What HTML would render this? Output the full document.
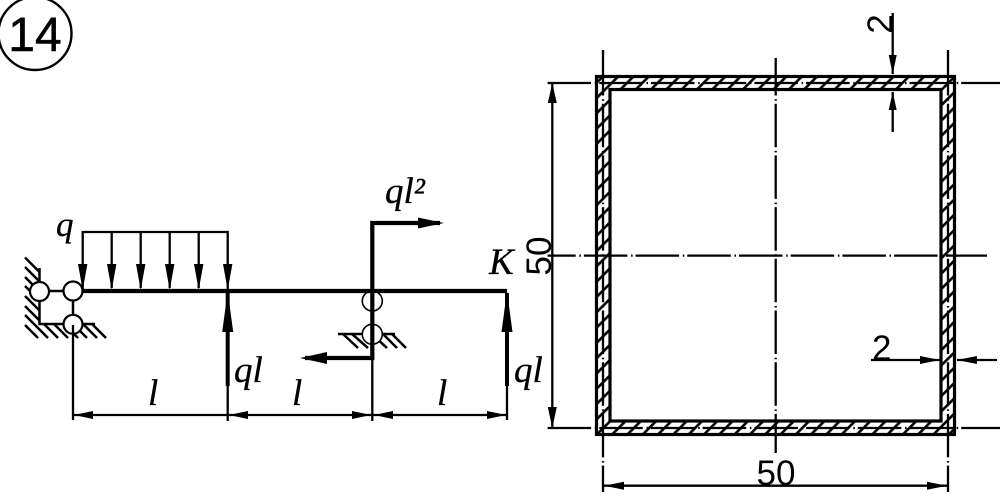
<!DOCTYPE html>
<html>
<head>
<meta charset="utf-8">
<style>
html,body{margin:0;padding:0;background:#fff}
svg{display:block}
.t{font-family:"Liberation Serif",serif;font-style:italic;font-size:37px;fill:#000;stroke:#000;stroke-width:.3}
.d{font-family:"Liberation Sans",sans-serif;font-size:35px;fill:#000}
</style>
</head>
<body>
<svg width="1000" height="501" viewBox="0 0 1000 501" xmlns="http://www.w3.org/2000/svg">
<defs>
<pattern id="h" patternUnits="userSpaceOnUse" width="10.82" height="10.82" patternTransform="rotate(-45)">
<rect x="0" y="3" width="10.82" height="2.6" fill="#000"/>
</pattern>
</defs>
<rect width="1000" height="501" fill="#fff"/>

<!-- 14 -->
<circle cx="35" cy="33.5" r="36.5" fill="none" stroke="#000" stroke-width="2.4"/>
<text x="35" y="51" text-anchor="middle" font-family="'Liberation Sans',sans-serif" font-size="48" stroke="#000" stroke-width="0.5">14</text>

<!-- wall hatch -->
<g stroke="#000" stroke-width="2.5" fill="none">
<path d="M25 257.5L39.5 272M25 267L39.5 281.5M25 277L39.5 291.5M25 286L39.5 300.5M25 296L39.5 310.5M25 306L39.5 320.5M25 315L48 338M25 325L38 338M44 324L58 338M54 324L68 338M64 324L78 338M73 324L87 338M83 324L97 338M92 324L106 338"/>
<path d="M39.5 268V324H95"/>
<path d="M39.5 291H73V324"/>
<!-- ground hatch -->
<path d="M338 334H395"/>
<path d="M343 334L358 348M352 334L368 348M375 337L387 348M383 334L397 348M392 334L406 348"/>
</g>
<circle cx="39.5" cy="291.5" r="9.5" fill="#fff" stroke="#000" stroke-width="2.2"/>
<circle cx="73" cy="291" r="9.5" fill="#fff" stroke="#000" stroke-width="2.2"/>
<circle cx="73" cy="324.3" r="9.5" fill="#fff" stroke="#000" stroke-width="2.2"/>
<circle cx="372.3" cy="301" r="10" fill="#fff" stroke="#000" stroke-width="1.6"/>
<circle cx="372.3" cy="334.3" r="10" fill="#fff" stroke="#000" stroke-width="1.6"/>

<!-- distributed load -->
<g stroke="#000" stroke-width="2.3" fill="none">
<path d="M82.7 291V232H227.7V291"/>
<path d="M111.7 232V288M140.7 232V288M169.7 232V288M198.7 232V288"/>
</g>
<g fill="#000">
<path d="M78 264H87.4L82.7 290Z"/>
<path d="M107 264H116.4L111.7 290Z"/>
<path d="M136 264H145.4L140.7 290Z"/>
<path d="M165 264H174.4L169.7 290Z"/>
<path d="M194 264H203.4L198.7 290Z"/>
<path d="M223 264H232.4L227.7 290Z"/>
</g>

<!-- beam and frame -->
<g stroke="#000" fill="none">
<path d="M83 291H507" stroke-width="4.2"/>
<path d="M440 223H372.3V358H305" stroke-width="4.2"/>
<path d="M227.7 386V293" stroke-width="4"/>
<path d="M507 386V293" stroke-width="4"/>
</g>
<g fill="#000">
<path d="M418 217.5L444 223L418 228.5Z"/>
<path d="M327 352L300 358L327 364Z"/>
<path d="M222.2 332L227.7 291L233.2 332Z"/>
<path d="M501.5 332L507 291L512.5 332Z"/>
</g>

<!-- left dimensions -->
<g stroke="#000" stroke-width="2.3" fill="none">
<path d="M73 325V420M227.7 386V421M372.3 358V421M507 386V420"/>
<path d="M73 415H507"/>
</g>
<g fill="#000">
<path d="M74 415L93 411V419Z"/>
<path d="M229 415L248 411V419Z"/>
<path d="M371 415L352 411V419Z"/>
<path d="M374 415L393 411V419Z"/>
<path d="M506 415L487 411V419Z"/>
</g>

<text class="t" x="56" y="236" style="font-size:35px">q</text>
<text class="t" x="234" y="382">ql</text>
<text class="t" x="148" y="405">l</text>
<text class="t" x="292" y="405">l</text>
<text class="t" x="437" y="405">l</text>
<text class="t" x="514" y="382">ql</text>
<text class="t" x="385" y="203">ql²</text>
<text class="t" x="489" y="274">K</text>

<!-- tube section -->
<path d="M596.5 76.5H954.5V434.5H596.5Z M610 89.5V421H941V89.5Z" fill="url(#h)" fill-rule="evenodd"/>
<rect x="596.5" y="76.5" width="358" height="358" fill="none" stroke="#000" stroke-width="3.2"/>
<rect x="610" y="89.5" width="331" height="331.5" fill="none" stroke="#000" stroke-width="3.2"/>

<!-- centre lines -->
<g stroke="#000" stroke-width="2.3" fill="none" stroke-dasharray="43.5 3.7 1.5 3">
<path d="M547.6 83H1003"/>
<path d="M547.6 428H1003"/>
<path d="M547.6 255.6H987" stroke-dashoffset="15.4"/>
<path d="M775.7 52V453"/>
<path d="M603 52V492"/>
<path d="M948 52V492"/>
</g>
<path d="M775.7 50V58" stroke="#fff" stroke-width="4"/>
<path d="M603 50V53M948 50V53" stroke="#000" stroke-width="2.3"/>

<!-- dimensions right -->
<g stroke="#000" stroke-width="2.3" fill="none">
<path d="M552.3 84V428"/>
<path d="M603 485.7H948"/>
<path d="M892.7 13V74"/>
<path d="M892.7 92V132"/>
<path d="M871 360H940"/>
<path d="M957 360H997"/>
</g>
<g fill="#000">
<path d="M552.3 83L547.8 103H556.8Z"/>
<path d="M552.3 428L547.8 407H556.8Z"/>
<path d="M604 485.7L624 481.7V489.7Z"/>
<path d="M947 485.7L927 481.7V489.7Z"/>
<path d="M892.7 74L888.7 55H896.7Z"/>
<path d="M892.7 92L888.7 110H896.7Z"/>
<path d="M940 360L920 356V364Z"/>
<path d="M957 360L977 356V364Z"/>
</g>
<text class="d" text-anchor="middle" x="776" y="485">50</text>
<text class="d" text-anchor="middle" transform="translate(551,256) rotate(-90)">50</text>
<text class="d" text-anchor="middle" transform="translate(892,24) rotate(-90)">2</text>
<text class="d" x="872" y="360">2</text>
</svg>
</body>
</html>
